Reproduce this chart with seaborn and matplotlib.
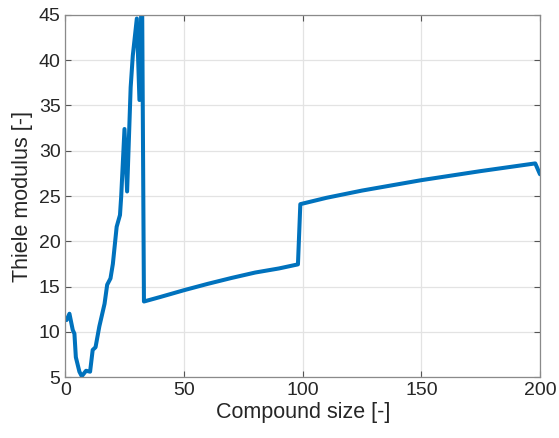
import matplotlib
matplotlib.use("Agg")
import matplotlib.pyplot as plt
import seaborn as sns
import pandas as pd

compound_size = [0.5, 1.7, 3.1, 3.8, 4.4, 5.9, 6.9, 8.7, 10.4, 11.5, 12.7, 14.3,
                 16.5, 17.6, 19.0, 20.0, 21.6, 23.0, 23.5, 24.9, 26.0, 27.5, 28.4,
                 30.1, 31.2, 32.0, 32.3, 33.1, 40, 50, 60, 70, 80, 90, 98,
                 99, 110, 125, 150, 175, 198, 200]
thiele = [11.3, 12.0, 10.2, 9.8, 7.2, 5.6, 5.1, 5.7, 5.6, 8.0, 8.3, 10.6,
          13.1, 15.2, 15.9, 17.5, 21.6, 22.9, 24.9, 32.4, 25.5, 37.0, 40.5,
          44.6, 35.6, 46.0, 48.0, 13.35, 13.85, 14.6, 15.3, 15.95, 16.55, 17.0, 17.45,
          24.1, 24.8, 25.6, 26.75, 27.75, 28.6, 27.4]

x_ticks = [0, 50, 100, 150, 200]
y_ticks = [5, 10, 15, 20, 25, 30, 35, 40, 45]
x_label = "Compound size [-]"
y_label = "Thiele modulus [-]"

df = pd.DataFrame({"size": compound_size, "thiele": thiele})

sns.set_style("white")
plt.rcParams['font.family'] = ['Liberation Sans', 'DejaVu Sans']

fig = plt.figure(figsize=(5.59, 4.38), dpi=100)
ax = fig.add_axes([0.117, 0.139, 0.849, 0.827])

sns.lineplot(data=df, x="size", y="thiele", ax=ax, color="#0072BD",
             linewidth=2.9, estimator=None, sort=False)

ax.set_xlim(0, 200)
ax.set_ylim(5, 45)
ax.set_xticks(x_ticks)
ax.set_yticks(y_ticks)
ax.grid(True, color="#E3E3E3", linewidth=0.9)
ax.set_axisbelow(True)
for s in ax.spines.values():
    s.set_visible(True)
    s.set_color("#8A8A8A")
    s.set_linewidth(0.9)
ax.tick_params(direction="in", length=4, width=0.8, color="#555555",
               labelsize=14, labelcolor="#262626",
               top=True, right=True, bottom=True, left=True)
ax.set_xlabel(x_label, fontsize=15.5, color="#262626", labelpad=2)
ax.set_ylabel(y_label, fontsize=15.5, color="#262626", labelpad=4)

fig.savefig("out.png", dpi=100)
